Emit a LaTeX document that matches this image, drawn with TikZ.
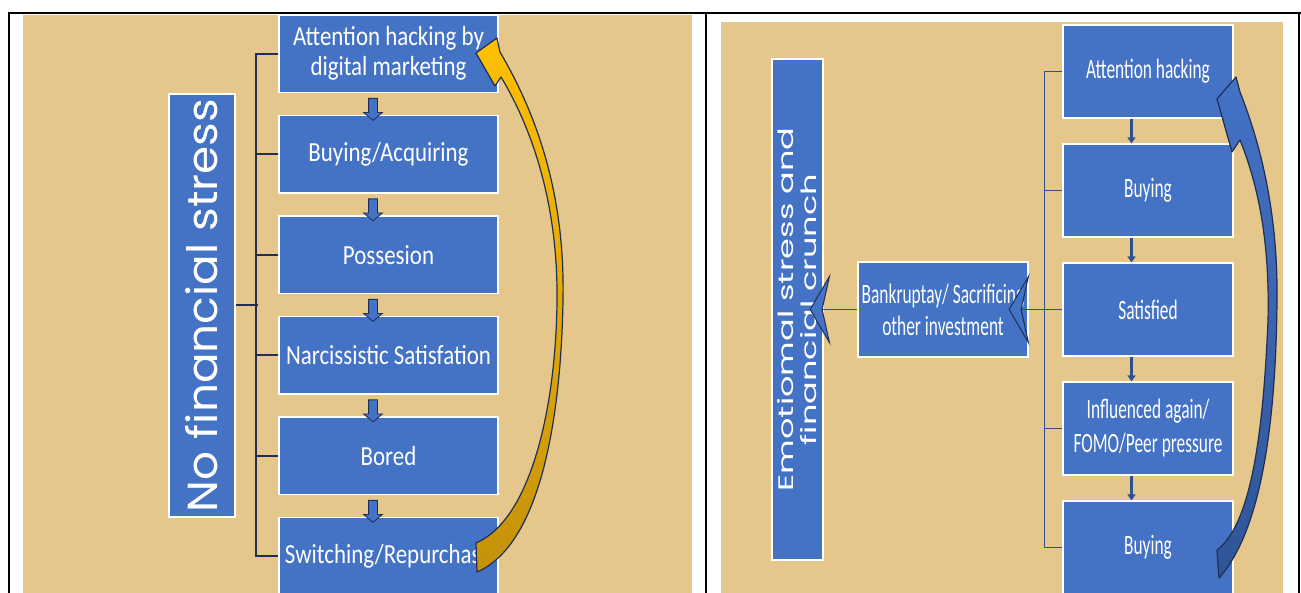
\documentclass[tikz,border=0pt]{standalone}
\usepackage{fontspec}
\usetikzlibrary{arrows.meta,shapes.arrows}

\newfontfamily\lfont[FakeStretch=0.83]{Carlito}
\newfontfamily\rfont[FakeStretch=0.62]{Carlito}
\newfontfamily\lside[FakeStretch=1.08]{Poppins}
\newfontfamily\rside[FakeStretch=1.6]{Poppins}

\definecolor{parch}{RGB}{229,199,140}
\definecolor{boxblue}{RGB}{68,114,196}
\definecolor{linenavy}{RGB}{47,82,143}
\definecolor{edgenavy}{RGB}{32,45,85}
\definecolor{gold}{RGB}{255,192,0}
\definecolor{darkgold}{RGB}{196,146,10}
\definecolor{darkblue}{RGB}{47,85,151}

\tikzset{
  lbox/.style={draw=white, line width=1.2pt, fill=boxblue, text=white, inner sep=0pt,
    minimum width=219pt, minimum height=77.5pt, align=center,
    font=\lfont\fontsize{27.6}{30}\selectfont},
  rbox/.style={draw=white, line width=1.2pt, fill=boxblue, text=white, inner sep=0pt,
    minimum width=170pt, minimum height=93pt, align=center,
    font=\rfont\fontsize{28}{34}\selectfont},
  vbox/.style={draw=white, line width=1.2pt, fill=boxblue, text=white, inner sep=0pt,
    rotate=90, align=center},
  brk/.style={draw=edgenavy, line width=2pt},
  rbrk/.style={draw=linenavy, line width=1.6pt},
  blk/.style={single arrow, rotate=-90, fill=boxblue, draw=edgenavy, line width=0.8pt,
    minimum height=22pt, inner sep=4pt, single arrow head extend=5pt,
    single arrow tip angle=100, anchor=tip},
  rarr/.style={draw=linenavy, line width=2.2pt, -{Triangle[length=6pt,width=8pt]}},
  chev/.style={rbrk, -{Stealth[length=21pt,width=72pt,inset=8pt,color=edgenavy,fill=boxblue,line width=1pt]}},
  curl/.style={draw=edgenavy, line width=1.2pt, line join=round}
}

\begin{document}
\begin{tikzpicture}[x=1pt,y=-1pt]
\useasboundingbox (0,0) rectangle (1301,593);
\fill[white] (0,0) rectangle (1301,593);

% parchment
\fill[parch] (23,15) rectangle (692,593);
\fill[parch] (721,22) rectangle (1283,593);

% table
\draw[line width=2pt] (8.5,593) -- (8.5,13.5) -- (1301,13.5);
\draw[line width=2pt] (705.5,13.5) -- (705.5,593);
\draw[line width=2pt] (1298.5,13.5) -- (1298.5,593);

% left side
\node[vbox, minimum width=423pt, minimum height=66pt,
  font=\lside\fontsize{42}{46}\selectfont] (nofin) at (202,305.5) {No financial stress};

\node[lbox] (b1) at (388.5,53.75) {Attention hacking by\\digital marketing};
\node[lbox] (b2) at (388.5,154.25) {Buying/Acquiring};
\node[lbox] (b3) at (388.5,254.75) {Possesion};
\node[lbox] (b4) at (388.5,355.25) {Narcissistic Satisfation};
\node[lbox] (b5) at (388.5,455.75) {Bored};
\node[lbox] (b6) at (388.5,556.25) {Switching/Repurchase};

\foreach \v in {b2,b3,b4,b5,b6}
  \node[blk] (dn\v) at ([xshift=-15.5pt,yshift=-6pt]\v.north) {};

\draw[brk] (b1.west) -- ++(-22,0) |- (b6.west);
\foreach \b in {b2,b3,b4,b5}
  \draw[brk] (\b.west) -- ++(-22,0);
\draw[brk] (nofin.south) -- ++(22,0);

% loop back
\draw[curl, top color=gold, middle color=gold, bottom color=darkgold]
  (476,53) -- (497,38) -- (500,52) .. controls (540,120) and (565,200) .. (563,300)
  .. controls (561,420) and (540,545) .. (477,572) -- (476,543)
  .. controls (530,520) and (556,410) .. (557,300)
  .. controls (558,200) and (530,125) .. (501,77) -- (495,86) -- cycle;

% right side
\node[vbox, minimum width=501pt, minimum height=51pt,
  font=\rside\fontsize{21}{23}\selectfont] (emo) at (797.5,309.5) {Emotiomal stress and\\financial crunch};

\node[rbox, minimum height=95pt, font=\rfont\fontsize{28}{32}\selectfont] (bank) at (943,309.5)
  {Bankruptay/ Sacrificing\\other investment};

\node[rbox] (r1) at (1148,71.5) {Attention hacking};
\node[rbox] (r2) at (1148,190.5) {Buying};
\node[rbox] (r3) at (1148,309.5) {Satisfied};
\node[rbox] (r4) at (1148,428.5) {Influenced again/\\FOMO/Peer pressure};
\node[rbox] (r5) at (1148,547.5) {Buying};

\foreach \u/\v in {r1/r2,r2/r3,r3/r4,r4/r5}
  \draw[rarr] ([xshift=-16.5pt]\u.south) -- ([xshift=-16.5pt]\v.north);

\draw[rbrk] (r1.west) -- ++(-18,0) |- (r5.west);
\foreach \b in {r2,r4}
  \draw[rbrk] (\b.west) -- ++(-18,0);
\draw[chev] (r3.west) -- ([xshift=-20pt]bank.east);
\draw[chev] (bank.west) -- ([xshift=-14pt]emo.south);

% loop back
\draw[curl, top color=boxblue, bottom color=darkblue]
  (1217,99) -- (1236,77) -- (1240,92) .. controls (1263,150) and (1278,220) .. (1277,300)
  .. controls (1276,420) and (1262,530) .. (1219,578) -- (1217,550)
  .. controls (1250,525) and (1263,440) .. (1268,320)
  .. controls (1270,235) and (1256,180) .. (1240,140) -- (1232,152) -- cycle;
\end{tikzpicture}
\end{document}
